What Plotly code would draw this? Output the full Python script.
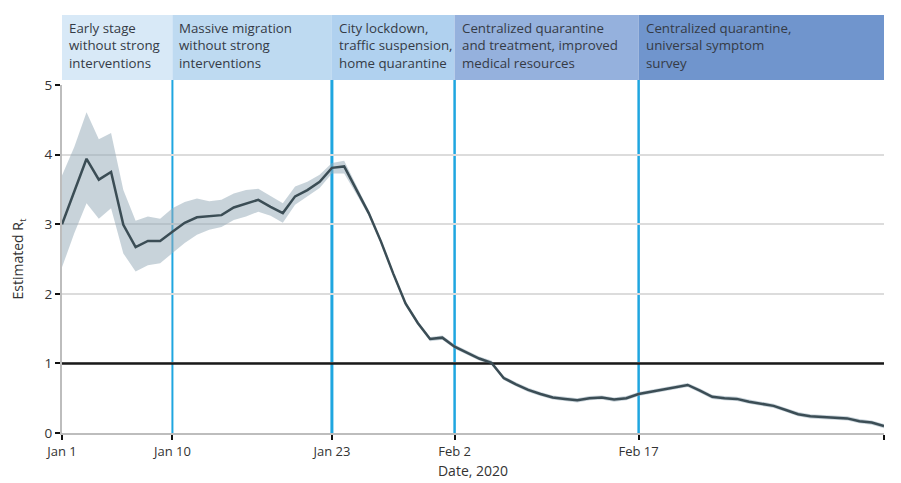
import pandas as pd
import plotly.graph_objects as go

# ---------------- data ----------------
start_date = "2020-01-01"
end_date = "2020-03-08"

rt_mean = [3.00, 3.47, 3.94, 3.64, 3.75, 2.99, 2.67, 2.76, 2.76, 2.89,
           3.02, 3.10, 3.11, 3.13, 3.24, 3.29, 3.35, 3.25, 3.16, 3.40,
           3.49, 3.61, 3.81, 3.83, 3.49, 3.16, 2.75, 2.29, 1.86, 1.58,
           1.35,
           1.37, 1.24, 1.15, 1.07, 1.01, 0.79, 0.70, 0.62, 0.56, 0.51,
           0.49, 0.47, 0.50, 0.51, 0.48, 0.50, 0.56, 0.59, 0.63, 0.66,
           0.69, 0.61, 0.52, 0.50, 0.49, 0.45, 0.42, 0.39, 0.33,
           0.27, 0.24, 0.23, 0.21, 0.21, 0.17, 0.15, 0.10]

rt_upper = [3.70, 4.11, 4.61, 4.22, 4.31, 3.49, 3.05, 3.11, 3.08, 3.23,
            3.32, 3.37, 3.33, 3.35, 3.44, 3.49, 3.51, 3.40, 3.30, 3.54,
            3.61, 3.71, 3.88, 3.91, 3.55, 3.20, 2.78, 2.32, 1.89, 1.61,
            1.38,
            1.40, 1.27, 1.18, 1.10, 1.04, 0.82, 0.73, 0.65, 0.59, 0.54,
            0.52, 0.50, 0.53, 0.54, 0.51, 0.53, 0.59, 0.62, 0.66, 0.69,
            0.72, 0.64, 0.55, 0.53, 0.52, 0.48, 0.45, 0.42, 0.36,
            0.30, 0.27, 0.26, 0.24, 0.24, 0.20, 0.18, 0.13]

rt_lower = [2.38, 2.87, 3.30, 3.08, 3.23, 2.58, 2.32, 2.41, 2.44, 2.58,
            2.73, 2.85, 2.92, 2.96, 3.06, 3.11, 3.18, 3.12, 3.02, 3.28,
            3.40, 3.52, 3.73, 3.73, 3.43, 3.12, 2.72, 2.26, 1.83, 1.55,
            1.32,
            1.34, 1.21, 1.12, 1.04, 0.98, 0.76, 0.67, 0.59, 0.53, 0.48,
            0.46, 0.44, 0.47, 0.48, 0.45, 0.47, 0.53, 0.56, 0.60, 0.63,
            0.66, 0.58, 0.49, 0.47, 0.46, 0.42, 0.39, 0.36, 0.30,
            0.24, 0.21, 0.20, 0.18, 0.18, 0.14, 0.12, 0.07]

threshold_rt = 1

tick_dates = ["2020-01-01", "2020-01-10", "2020-01-23", "2020-02-02", "2020-02-17", "2020-03-08"]
tick_labels = ["Jan 1", "Jan 10", "Jan 23", "Feb 2", "Feb 17", "Mar 8"]

phase_starts = ["2020-01-01", "2020-01-10", "2020-01-23", "2020-02-02", "2020-02-17"]
phase_ends = ["2020-01-10", "2020-01-23", "2020-02-02", "2020-02-17", "2020-03-08"]
phase_labels = [
    "Early stage<br>without strong<br>interventions",
    "Massive migration<br>without strong<br>interventions",
    "City lockdown,<br>traffic suspension,<br>home quarantine",
    "Centralized quarantine<br>and treatment, improved<br>medical resources",
    "Centralized quarantine,<br>universal symptom<br>survey",
]
phase_colors = ["#d8e9f7", "#bedaf1", "#b0d1ef", "#95b1dd", "#7095cd"]
divider_dates = ["2020-01-10", "2020-01-23", "2020-02-02", "2020-02-17"]
divider_widths = [2, 3, 2.5, 2.5]

dates = pd.date_range(start_date, end_date, freq="D")

# ---------------- figure ----------------
FONT = "Open Sans"
fig = go.Figure()

fig.add_trace(go.Scatter(x=dates, y=rt_upper, mode="lines", line=dict(width=0),
                         hoverinfo="skip", showlegend=False))
fig.add_trace(go.Scatter(x=dates, y=rt_lower, mode="lines", line=dict(width=0),
                         fill="tonexty", fillcolor="rgba(150,170,184,0.52)",
                         hoverinfo="skip", showlegend=False))
# threshold line at Rt = 1
fig.add_trace(go.Scatter(x=[start_date, end_date], y=[threshold_rt, threshold_rt],
                         mode="lines", line=dict(color="#1a1a1a", width=2.5),
                         hoverinfo="skip", showlegend=False, cliponaxis=False))
fig.add_trace(go.Scatter(x=dates, y=rt_mean, mode="lines",
                         line=dict(color="#3b4d55", width=2.5),
                         showlegend=False))

# header bands
band_y0, band_y1 = 1.0144, 1.2011
for s, e, c, lab in zip(phase_starts, phase_ends, phase_colors, phase_labels):
    fig.add_shape(type="rect", xref="x", x0=s, x1=e, yref="paper", y0=band_y0, y1=band_y1,
                  fillcolor=c, line=dict(width=0), layer="below")
    fig.add_annotation(x=s, xref="x", xanchor="left", xshift=5,
                       y=band_y1, yref="paper", yanchor="top", yshift=-2,
                       text=lab, showarrow=False, align="left",
                       font=dict(family=FONT, size=13.3, color="#353b46"))

# phase dividers
for d, w in zip(divider_dates, divider_widths):
    fig.add_shape(type="line", xref="x", x0=d, x1=d, yref="paper", y0=0, y1=band_y0,
                  line=dict(color="#1fa6e0", width=w), layer="between")

fig.update_layout(
    width=901, height=483,
    margin=dict(l=62, r=17, t=85, b=50),
    paper_bgcolor="white", plot_bgcolor="white",
    font=dict(family=FONT, color="#333333"),
    xaxis=dict(
        range=[start_date, end_date], automargin=False,
        tickmode="array", tickvals=tick_dates, ticktext=tick_labels,
        ticks="outside", ticklen=5, tickwidth=2, tickcolor="#111111",
        showgrid=False, zeroline=False,
        showline=True, linecolor="#bdbdbd", linewidth=2,
        tickfont=dict(size=13, color="#333333"),
        title=dict(text="Date, 2020", font=dict(size=14, color="#333333"), standoff=8),
    ),
    yaxis=dict(
        range=[0, 5], tickvals=[0, 1, 2, 3, 4, 5], automargin=False,
        ticks="outside", ticklen=5, tickwidth=2, tickcolor="#111111",
        showgrid=True, gridcolor="#dcdcdc", gridwidth=2,
        zeroline=False,
        showline=True, linecolor="#bdbdbd", linewidth=2,
        tickfont=dict(size=13.5, color="#333333"),
        title=dict(text="Estimated R<sub>t</sub>", font=dict(size=14, color="#333333"), standoff=18),
    ),
)

fig.write_html("out.html")
